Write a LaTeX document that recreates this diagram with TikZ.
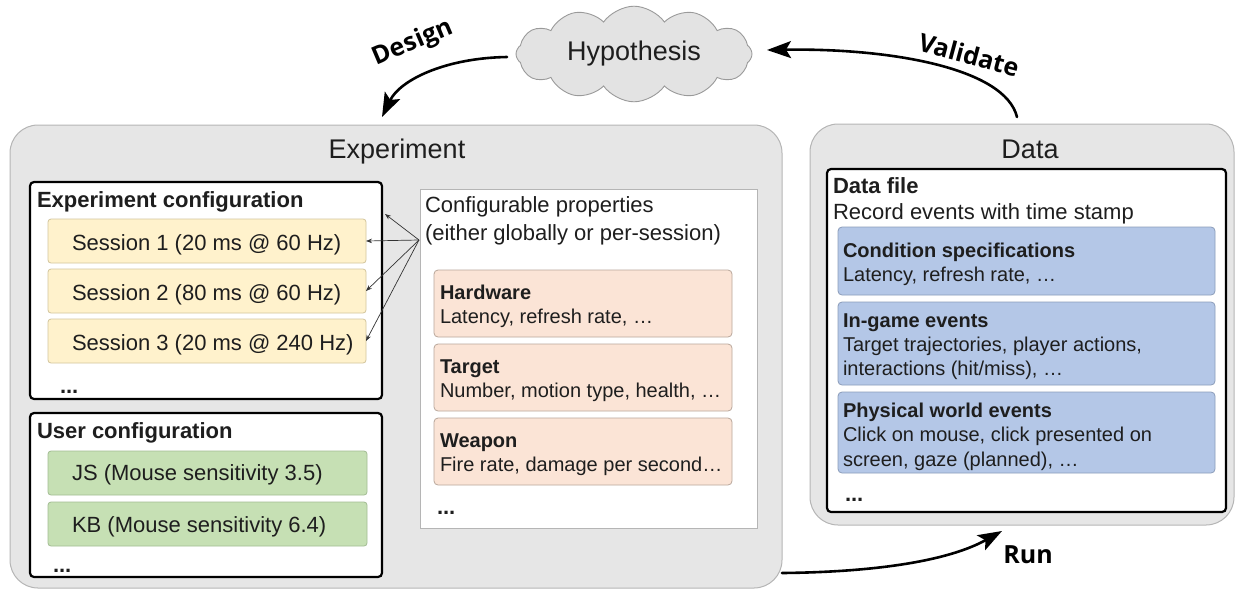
\documentclass[tikz,border=0pt]{standalone}
\usepackage{fontspec}
\setmainfont{Liberation Sans}
\newfontfamily\lblfont{Open Sans}
\usetikzlibrary{shapes.symbols,arrows.meta}
\definecolor{outerfill}{HTML}{E6E6E6}
\definecolor{outerline}{HTML}{B5B5B5}
\definecolor{sessfill}{HTML}{FFF2CC}
\definecolor{sessline}{HTML}{D2C59C}
\definecolor{greenfill}{HTML}{C6E0B4}
\definecolor{greenline}{HTML}{A3BD93}
\definecolor{peachfill}{HTML}{FBE4D6}
\definecolor{peachline}{HTML}{B9A79B}
\definecolor{bluefill}{HTML}{B4C7E7}
\definecolor{blueline}{HTML}{8C9DBA}
\definecolor{cloudfill}{HTML}{E3E3E3}
\definecolor{cloudline}{HTML}{9A9A9A}
\definecolor{txt}{HTML}{1E1E1E}
\begin{document}
\begin{tikzpicture}[x=1pt,y=-1pt,
  boxbase/.style={inner sep=0pt, outer sep=0pt, anchor=north west},
  outerbox/.style={boxbase, draw=outerline, fill=outerfill, line width=1pt, rounded corners=28pt},
  cfgbox/.style={boxbase, draw=black, fill=white, line width=2.2pt, rounded corners=4pt},
  propsbox/.style={boxbase, draw=outerline, fill=white, line width=0.9pt},
  sessbox/.style={boxbase, draw=sessline, fill=sessfill, line width=0.8pt, rounded corners=3pt},
  userbox/.style={boxbase, draw=greenline, fill=greenfill, line width=0.8pt, rounded corners=3pt},
  peachbox/.style={boxbase, draw=peachline, fill=peachfill, line width=0.8pt, rounded corners=4pt},
  bluebox/.style={boxbase, draw=blueline, fill=bluefill, line width=0.8pt, rounded corners=4pt},
  txtbase/.style={anchor=base west, inner sep=0pt, outer sep=0pt, text=txt},
  txtS/.style={txtbase, font=\fontsize{20}{24}\selectfont},
  txtSb/.style={txtbase, font=\fontsize{20}{24}\selectfont\bfseries},
  txtM/.style={txtbase, font=\fontsize{22}{26}\selectfont},
  txtMb/.style={txtbase, font=\fontsize{22}{26}\selectfont\bfseries},
  titletxt/.style={anchor=base, inner sep=0pt, text=txt, font=\fontsize{27}{32}\selectfont},
  lbl/.style={inner sep=0pt, text=black, font=\lblfont\bfseries\fontsize{25}{30}\selectfont},
  bigarrow/.style={line width=2.6pt, line cap=round, -{Stealth[length=24pt,width=17pt,inset=5pt]}},
  smallarrow/.style={line width=0.7pt, draw=black!80, -{Stealth[length=6pt,width=4.5pt]}}
]
\useasboundingbox (0,0) rectangle (1239,590);

% cloud
\node[cloud, cloud puffs=12, cloud puff arc=110, aspect=2.6, draw=cloudline, fill=cloudfill, line width=0.9pt,
  minimum width=236pt, minimum height=90pt, inner sep=0pt, text=txt, font=\fontsize{27}{32}\selectfont] (hyp) at (634,54) {Hypothesis};

% Experiment
\node[outerbox, minimum width=772pt, minimum height=463pt] (exp) at (10,125) {};
\node[titletxt] (exptitle) at (397,158) {Experiment};

\node[cfgbox, minimum width=352pt, minimum height=217pt] (expcfg) at (30,182) {};
\node[txtMb] (expcfgtitle) at (37,207) {Experiment configuration};
\node[sessbox, minimum width=318pt, minimum height=44pt] (s1) at (48,219) {};
\node[sessbox, minimum width=318pt, minimum height=44pt] (s2) at (48,269) {};
\node[sessbox, minimum width=318pt, minimum height=44pt] (s3) at (48,319) {};
\node[txtM] (s1t) at (72,250) {Session 1 (20 ms @ 60 Hz)};
\node[txtM] (s2t) at (72,300) {Session 2 (80 ms @ 60 Hz)};
\node[txtM] (s3t) at (72,350) {Session 3 (20 ms @ 240 Hz)};
\node[txtMb] (expdots) at (60,393) {...};

\node[cfgbox, minimum width=352pt, minimum height=164pt] (usercfg) at (30,413) {};
\node[txtMb] (usertitle) at (37,438) {User configuration};
\node[userbox, minimum width=319pt, minimum height=44pt] (js) at (48,451) {};
\node[userbox, minimum width=319pt, minimum height=44pt] (kb) at (48,502) {};
\node[txtM] (jst) at (72,480) {JS (Mouse sensitivity 3.5)};
\node[txtM] (kbt) at (72,532) {KB (Mouse sensitivity 6.4)};
\node[txtMb] (userdots) at (53,572) {...};

\node[propsbox, minimum width=337pt, minimum height=339pt] (props) at (420,189) {};
\node[txtM] (propst1) at (425,212) {Configurable properties};
\node[txtM] (propst2) at (425,240) {(either globally or per-session)};
\node[peachbox, minimum width=298pt, minimum height=67pt] (hw) at (434,270) {};
\node[peachbox, minimum width=298pt, minimum height=67pt] (tg) at (434,344) {};
\node[peachbox, minimum width=298pt, minimum height=67pt] (wp) at (434,418) {};
\node[txtSb] (hwt) at (440,299) {Hardware};
\node[txtS] (hwd) at (440,323) {Latency, refresh rate, …};
\node[txtSb] (tgt) at (440,373) {Target};
\node[txtS] (tgd) at (440,397) {Number, motion type, health, …};
\node[txtSb] (wpt) at (440,447) {Weapon};
\node[txtS] (wpd) at (440,471) {Fire rate, damage per second…};
\node[txtMb] (propsdots) at (437,514) {...};

\coordinate (src) at (419,240);
\draw[smallarrow] (src) -- (385,214);
\draw[smallarrow] (src) -- (s1.east);
\draw[smallarrow] (src) -- (s2.east);
\draw[smallarrow] (src) -- (s3.east);

% Data
\node[outerbox, minimum width=424pt, minimum height=401pt] (data) at (810,124) {};
\node[titletxt] (datatitle) at (1030,158) {Data};
\node[cfgbox, minimum width=399pt, minimum height=343pt] (dfile) at (827,169) {};
\node[txtMb] (dfilet) at (833,193) {Data file};
\node[txtM] (dfiled) at (833,219) {Record events with time stamp};
\node[bluebox, minimum width=377pt, minimum height=68pt] (cond) at (838,227) {};
\node[bluebox, minimum width=377pt, minimum height=83pt] (ingame) at (838,302) {};
\node[bluebox, minimum width=377pt, minimum height=81pt] (phys) at (838,392) {};
\node[txtSb] (condt) at (843,257) {Condition specifications};
\node[txtS] (condd) at (843,281) {Latency, refresh rate, …};
\node[txtSb] (ingt) at (843,327) {In-game events};
\node[txtS] (ingd1) at (843,351) {Target trajectories, player actions,};
\node[txtS] (ingd2) at (843,375) {interactions (hit/miss), …};
\node[txtSb] (physt) at (843,417) {Physical world events};
\node[txtS] (physd1) at (843,441) {Click on mouse, click presented on};
\node[txtS] (physd2) at (843,466) {screen, gaze (planned), …};
\node[txtMb] (datadots) at (845,501) {...};

% Cycle arrows
\coordinate (dstart) at (507,57);
\coordinate (dend) at (382,117);
\draw[bigarrow] (dstart) .. controls (445,58) and (400,80) .. (dend);
\node[lbl, rotate=23] (designlbl) at (413,43) {Design};

\coordinate (vstart) at (1017,117);
\coordinate (vend) at (767,50);
\draw[bigarrow] (vstart) .. controls (1005,68) and (890,48) .. (vend);
\node[lbl, rotate=-15] (validatelbl) at (969,55) {Validate};

\coordinate (rstart) at (782,573);
\coordinate (rend) at (1002,531);
\draw[bigarrow] (rstart) .. controls (880,572) and (950,560) .. (rend);
\node[lbl] (runlbl) at (1028,555) {Run};
\end{tikzpicture}
\end{document}
